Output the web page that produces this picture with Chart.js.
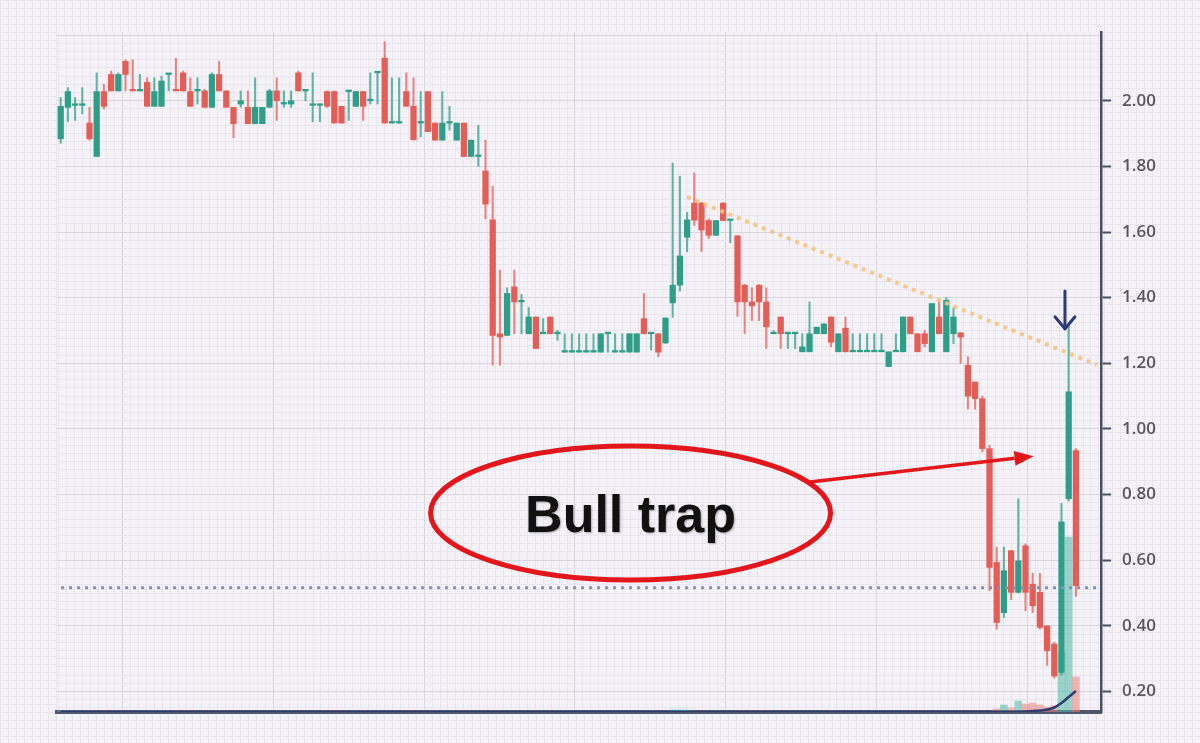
<!DOCTYPE html>
<html><head><meta charset="utf-8">
<script src="https://cdn.jsdelivr.net/npm/chart.js@4.4.1/dist/chart.umd.min.js"></script>
<style>
html,body{margin:0;padding:0;width:1200px;height:743px;overflow:hidden;
background-color:#f4f2f7;
background-image:linear-gradient(to right,#e8e5ee 1px,transparent 1px),linear-gradient(to bottom,#e8e5ee 1px,transparent 1px);
background-size:8px 8px;}
#wrap{position:relative;width:1200px;height:743px;}
canvas{display:block;}
</style></head>
<body><div id="wrap"><canvas id="c" width="1200" height="743"></canvas></div>
<script>
// ---- data ----
const openP = [
1.884,1.98,1.986,1.986,1.932,1.83,2.028,2.08,2.03,2.12,
2.032,2.03,2.056,1.983,1.983,2.08,2.035,2.085,2.028,2.03,
2.03,1.98,2.08,2.03,1.98,1.99,1.98,1.93,1.93,1.98,
2.03,1.99,1.99,2.085,2.03,1.986,1.986,2.028,2.028,1.983,
2.028,1.983,2.028,2.0,2.085,2.13,1.932,1.932,2.028,1.983,
1.932,2.028,1.932,1.88,1.932,1.88,1.932,1.83,1.83,1.786,
1.637,1.29,1.285,1.433,1.387,1.29,1.341,1.29,1.341,1.29,
1.234,1.234,1.234,1.234,1.234,1.234,1.29,1.234,1.234,1.234,
1.234,1.336,1.29,1.29,1.262,1.384,1.438,1.584,1.688,1.688,
1.635,1.59,1.688,1.635,1.588,1.438,1.387,1.438,1.387,1.29,
1.341,1.29,1.29,1.235,1.235,1.29,1.29,1.341,1.235,1.307,
1.235,1.235,1.235,1.235,1.235,1.19,1.235,1.235,1.341,1.29,
1.29,1.235,1.341,1.235,1.29,1.293,1.194,1.143,1.092,0.94,
0.593,0.44,0.629,0.502,0.644,0.527,0.502,0.40,0.344,0.258,
0.787,0.934];
const highP = [
2.01,2.04,2.01,2.04,1.98,2.085,2.05,2.09,2.085,2.125,
2.125,2.08,2.07,2.07,2.075,2.08,2.13,2.09,2.07,2.07,
2.035,2.085,2.12,2.03,1.98,2.03,2.03,2.07,1.98,2.035,
2.07,2.03,2.03,2.09,2.03,2.085,1.99,2.03,2.03,1.983,
2.03,2.028,2.028,2.085,2.085,2.18,2.07,2.07,2.085,2.07,
2.028,2.028,1.932,2.028,1.983,1.932,1.932,1.88,1.925,1.88,
1.74,1.484,1.43,1.484,1.41,1.37,1.341,1.336,1.341,1.30,
1.29,1.29,1.29,1.29,1.29,1.29,1.29,1.29,1.29,1.29,
1.29,1.413,1.29,1.29,1.338,1.81,1.77,1.66,1.78,1.69,
1.64,1.635,1.69,1.635,1.59,1.44,1.43,1.44,1.43,1.30,
1.341,1.29,1.29,1.29,1.387,1.31,1.32,1.341,1.29,1.341,
1.29,1.29,1.29,1.29,1.29,1.235,1.29,1.341,1.341,1.29,
1.30,1.382,1.39,1.40,1.37,1.293,1.22,1.143,1.10,0.95,
0.64,0.64,0.63,0.787,0.65,0.56,0.56,0.40,0.35,0.773,
1.32,0.94];
const lowP = [
1.87,1.937,1.94,1.96,1.88,1.83,1.975,2.03,2.03,2.03,
2.03,2.03,1.983,1.983,1.983,2.03,2.03,2.03,1.983,1.99,
1.98,1.98,2.03,1.98,1.887,1.98,1.93,1.93,1.93,1.98,
1.94,1.98,1.98,2.03,2.0,1.936,1.936,1.98,1.932,1.932,
1.94,1.983,1.94,1.99,1.99,1.932,1.932,1.932,1.983,1.881,
1.89,1.906,1.88,1.88,1.91,1.88,1.83,1.83,1.80,1.64,
1.194,1.194,1.285,1.29,1.29,1.29,1.245,1.29,1.29,1.27,
1.234,1.234,1.234,1.234,1.234,1.234,1.234,1.234,1.234,1.234,
1.234,1.29,1.24,1.22,1.26,1.34,1.42,1.54,1.62,1.54,
1.58,1.59,1.635,1.567,1.343,1.29,1.33,1.33,1.245,1.29,
1.245,1.245,1.245,1.235,1.235,1.29,1.29,1.25,1.235,1.235,
1.235,1.235,1.235,1.235,1.235,1.19,1.235,1.235,1.29,1.235,
1.25,1.235,1.29,1.235,1.26,1.20,1.06,1.06,0.93,0.507,
0.39,0.425,0.48,0.50,0.446,0.44,0.39,0.28,0.24,0.25,
0.78,0.49];
const closeP = [
1.983,2.028,1.988,1.986,1.884,2.028,1.983,2.03,2.08,2.08,
2.03,2.03,1.983,2.028,2.06,2.08,2.03,2.03,1.983,2.03,
1.98,2.08,2.03,1.98,1.93,2.0,1.93,1.98,1.98,2.03,
2.0,1.99,2.0,2.03,2.03,1.986,1.986,1.983,1.932,1.932,
2.028,2.028,1.983,2.0,2.085,1.932,1.932,1.932,1.983,1.881,
1.932,1.906,1.88,1.932,1.932,1.932,1.83,1.88,1.83,1.685,
1.285,1.28,1.413,1.387,1.387,1.341,1.245,1.29,1.29,1.29,
1.234,1.234,1.234,1.234,1.234,1.29,1.29,1.234,1.234,1.29,
1.29,1.29,1.29,1.234,1.338,1.438,1.527,1.637,1.636,1.606,
1.59,1.635,1.635,1.635,1.387,1.387,1.375,1.387,1.311,1.29,
1.29,1.29,1.29,1.25,1.29,1.31,1.32,1.264,1.29,1.235,
1.235,1.235,1.235,1.235,1.235,1.235,1.235,1.341,1.29,1.235,
1.26,1.382,1.29,1.392,1.341,1.28,1.10,1.092,0.94,0.578,
0.41,0.568,0.502,0.598,0.502,0.461,0.395,0.324,0.247,0.717,
1.113,0.522];
const volume = [
1,1,1,1,1,1,1,1,1,1, 1,1,1,1,1,1,1,1,1,1,
1,1,1,1,1,1,1,1,1,1, 1,1,1,1,1,1,1,1,1,1,
1,1,1,1,1,1,1,1,1,1, 1,1,1,1,1,1,1,1,1,1,
1,1,1,1,1,1,1,1,1,1, 1,1,1,1,1,1,1,1,1,1,
1,1,1,1,1,2,2,2,1,1, 1,1,1,1,1,1,1,1,1,1,
1,1,1,1,1,1,1,1,1,1, 1,1,1,1,1,1,1,1,1,1,
1,1,1,1,1,1,1,1,1,1, 3,7,4,11,8,9,7,5,6,60,
175,35];
const volumeMA = [
0,0,0,0,0,0,0,0,0,0, 0,0,0,0,0,0,0,0,0,0,
0,0,0,0,0,0,0,0,0,0, 0,0,0,0,0,0,0,0,0,0,
0,0,0,0,0,0,0,0,0,0, 0,0,0,0,0,0,0,0,0,0,
0,0,0,0,0,0,0,0,0,0, 0,0,0,0,0,0,0,0,0,0,
0,0,0,0,0,0,0,0,0,0, 0,0,0,0,0,0,0,0,0,0,
0,0,0,0,0,0,0,0,0,0, 0,0,0,0,0,0,0,0,0,0,
0,0,0,0,0,0,0,0,0,0, 0,0,0,0,0.5,1,1.5,2.5,4.5,9,
15,21];
const slotLabels = Array.from({length:145}, (_, i) => String(i + 1)); // 142 sessions + 3 empty
const priceLabels = [0.2, 0.4, 0.6, 0.8, 1.0, 1.2, 1.4, 1.6, 1.8, 2.0];
const priceMin = 0.1374, priceMax = 2.2095;
const volumeMax = 680;
const supportLevel = 0.516;
const trendStart = {x: 87.1, y: 1.707};
const trendEnd   = {x: 144.5, y: 1.195};
const trapLabel = 'Bull trap';
const trapAt = {x: 79.2, y: 0.744};
const trapArrowFrom = {x: 104.3, y: 0.838}, trapArrowTo = {x: 135.6, y: 0.917};
const signalAt = {x: 140, top: 1.42, tip: 1.305};

// ---- styling ----
const TEAL = '#2f9e89', RED = '#e45e58';
const TEAL_W = 'rgba(47,158,137,0.75)', RED_W = 'rgba(228,94,88,0.75)';
const TEAL_V = 'rgba(80,186,166,0.55)', RED_V = 'rgba(236,130,128,0.55)';
const up = i => closeP[i] >= openP[i];

const bgPlugin = {
  id:'bg',
  beforeDraw(chart){
    const {ctx, chartArea:a} = chart;
    ctx.save(); ctx.fillStyle = '#f4f2f7';
    ctx.fillRect(a.left, a.top, a.right - a.left, a.bottom - a.top);
    ctx.restore();
  }
};

const annot = {
  id:'annot',
  afterDatasetsDraw(chart){
    const {ctx, scales:{gx, y}} = chart;
    ctx.save();
    const cx = gx.getPixelForValue(trapAt.x), cy = y.getPixelForValue(trapAt.y);
    ctx.beginPath(); ctx.ellipse(cx, cy, 200, 67, 0, 0, Math.PI*2);
    ctx.lineWidth = 5; ctx.strokeStyle = '#e3161c'; ctx.stroke();
    ctx.font = 'bold 52px "Liberation Sans", Arial, sans-serif';
    ctx.textAlign = 'center'; ctx.textBaseline = 'alphabetic';
    ctx.shadowColor = 'rgba(0,0,0,0.3)'; ctx.shadowBlur = 2; ctx.shadowOffsetX = 1; ctx.shadowOffsetY = 1;
    ctx.fillStyle = '#111'; ctx.fillText(trapLabel, cx, cy + 19);
    ctx.shadowColor = 'transparent';
    const x1 = gx.getPixelForValue(trapArrowFrom.x), y1 = y.getPixelForValue(trapArrowFrom.y);
    const x2 = gx.getPixelForValue(trapArrowTo.x), y2 = y.getPixelForValue(trapArrowTo.y);
    const ang = Math.atan2(y2 - y1, x2 - x1), hl = 19, hw = 7.5;
    const bx = x2 - hl*Math.cos(ang), by = y2 - hl*Math.sin(ang);
    ctx.beginPath(); ctx.moveTo(x1, y1); ctx.lineTo(bx, by);
    ctx.lineWidth = 3.5; ctx.strokeStyle = '#e3161c'; ctx.stroke();
    ctx.beginPath(); ctx.moveTo(x2, y2);
    ctx.lineTo(bx + hw*Math.sin(ang), by - hw*Math.cos(ang));
    ctx.lineTo(bx - hw*Math.sin(ang), by + hw*Math.cos(ang));
    ctx.closePath(); ctx.fillStyle = '#e3161c'; ctx.fill();
    const ax = gx.getPixelForValue(signalAt.x), at = y.getPixelForValue(signalAt.top), ab = y.getPixelForValue(signalAt.tip);
    ctx.strokeStyle = '#2c3a78'; ctx.lineWidth = 3; ctx.lineCap = 'round'; ctx.lineJoin = 'round';
    ctx.beginPath(); ctx.moveTo(ax, at); ctx.lineTo(ax, ab); ctx.stroke();
    ctx.beginPath(); ctx.moveTo(ax - 10, ab - 12); ctx.lineTo(ax, ab); ctx.lineTo(ax + 10, ab - 12); ctx.stroke();
    ctx.restore();
  }
};

const isMajorY = v => Math.abs(v/0.2 - Math.round(v/0.2)) < 1e-6;
const isLabelled = v => priceLabels.some(p => Math.abs(p - v) < 1e-6);

new Chart(document.getElementById('c'), {
  type: 'bar',
  data: {
    labels: slotLabels,
    datasets: [
      { label:'volume', data: volume, yAxisID:'yv', xAxisID:'x', grouped:false, order:10,
        backgroundColor: volume.map((v,i)=> up(i) ? TEAL_V : RED_V), barThickness:7, borderWidth:0 },
      { type:'line', label:'volMA', data: volumeMA, yAxisID:'yv', xAxisID:'x', order:9,
        borderColor:'#2e3c6e', borderWidth:2.5, pointRadius:0, tension:0.4, fill:false },
      { label:'wick', data: lowP.map((l,i)=>[l, highP[i]]), yAxisID:'y', xAxisID:'x', grouped:false, order:5,
        backgroundColor: lowP.map((l,i)=> up(i) ? TEAL_W : RED_W), barThickness:1.4, borderWidth:0 },
      { label:'body', data: openP.map((o,i)=>[o, closeP[i]]), yAxisID:'y', xAxisID:'x', grouped:false, order:4,
        backgroundColor: openP.map((o,i)=> up(i) ? TEAL : RED), barThickness:5.6, borderWidth:0, minBarLength:1.6 },
      { type:'line', label:'support', xAxisID:'gx', yAxisID:'y', order:2,
        data:[{x:-0.5, y:supportLevel},{x:144.5, y:supportLevel}],
        borderColor:'#8590b6', borderWidth:3, borderDash:[3,5], pointRadius:0 },
      { type:'line', label:'trend', xAxisID:'gx', yAxisID:'y', order:1,
        data:[trendStart, trendEnd],
        borderColor:'rgba(243,196,132,0.9)', borderWidth:4, borderDash:[4,5], pointRadius:0 }
    ]
  },
  options: {
    responsive:false, animation:false, devicePixelRatio:1,
    layout:{ padding:{ left:57.1, right:0, top:32, bottom:31 } },
    plugins:{ legend:{display:false}, tooltip:{enabled:false} },
    scales:{
      x:{ type:'category', position:'bottom', offset:true,
        ticks:{display:false}, grid:{display:false, drawTicks:false},
        border:{display:true, color:'#50566d', width:4},
        afterFit: s => { s.height = 0; } },
      gx:{ type:'linear', axis:'x', position:'bottom', min:-0.5, max:144.5,
        ticks:{display:false}, border:{display:false},
        grid:{ drawTicks:false, color: c => (c.tick && c.tick.major) ? '#d9d5df' : '#e8e5ee', lineWidth:1 },
        afterBuildTicks: s => {
          const start = 8.65, step = 21.11/19;
          const j0 = Math.ceil((s.min - start)/step), j1 = Math.floor((s.max - start)/step);
          const t = [];
          for (let j = j0; j <= j1; j++) t.push({value: start + j*step, major: ((j % 19) + 19) % 19 === 0});
          s.ticks = t;
        },
        afterFit: s => { s.height = 0; } },
      y:{ type:'linear', position:'right', min:priceMin, max:priceMax,
        border:{display:true, color:'#4b4f63', width:2.5},
        grid:{ color: c => (c.tick && isMajorY(c.tick.value)) ? '#d9d5df' : '#e8e5ee',
               drawTicks:true, tickLength:10, tickWidth:2,
               tickColor: c => (c.tick && isLabelled(c.tick.value)) ? '#4b4f63' : 'rgba(0,0,0,0)' },
        ticks:{ autoSkip:false, padding:11, color:'#58565e',
                font:{family:'"Open Sans", "DejaVu Sans", sans-serif', size:17, weight:'600'},
                callback: v => isLabelled(v) ? v.toFixed(2) : '' },
        afterBuildTicks: s => {
          const t = [];
          for (let j = Math.ceil(s.min/0.025); j <= Math.floor(s.max/0.025); j++) t.push({value: Math.round(j*25)/1000});
          s.ticks = t;
        },
        afterFit: s => { s.width = 98.9; } },
      yv:{ type:'linear', axis:'y', position:'right', display:false, min:0, max:volumeMax }
    }
  },
  plugins:[bgPlugin, annot]
});
</script>
</body></html>
